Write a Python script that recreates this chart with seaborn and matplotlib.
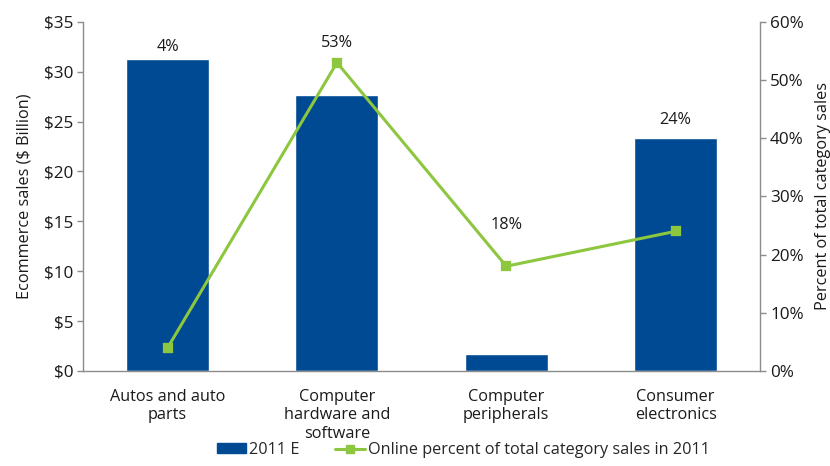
import numpy as np
import pandas as pd
import matplotlib
matplotlib.use("Agg")
import matplotlib.pyplot as plt
import seaborn as sns
from matplotlib.ticker import FuncFormatter, FixedLocator
from matplotlib.patches import Patch
from matplotlib.lines import Line2D

categories = ["Autos and auto\nparts", "Computer\nhardware and\nsoftware",
              "Computer\nperipherals", "Consumer\nelectronics"]
sales_2011 = [31.3, 27.7, 1.7, 23.4]
online_pct = [4, 53, 18, 24]
pct_labels = ["4%", "53%", "18%", "24%"]
label_y = [32.5, 32.9, 14.6, 25.2]  # label positions in $ Billion axis units

bar_color = "#004A93"
line_color = "#8DC63F"
axis_color = "#8C8C8C"
txt = "#1a1a1a"
fs = 11.7

sns.set_theme(style="white")
plt.rcParams["font.family"] = ["Open Sans", "DejaVu Sans"]

df = pd.DataFrame({"cat": categories, "sales": sales_2011, "pct": online_pct})

fig = plt.figure(figsize=(8.3, 4.66), dpi=100)
ax = fig.add_axes([0.1, 0.204, 0.816, 0.749])

sns.barplot(data=df, x="cat", y="sales", color=bar_color, width=0.49,
            saturation=1, ax=ax)
ax.set_ylim(0, 35)
ax.set_xlim(-0.5, 3.5)
ax.set_yticks(np.arange(0, 36, 5))
ax.yaxis.set_major_formatter(FuncFormatter(lambda v, p: f"${v:.0f}"))
ax.set_xlabel("")
ax.set_ylabel("Ecommerce sales ($ Billion)", fontsize=fs, color=txt, labelpad=8)

ax2 = ax.twinx()
sns.pointplot(data=df, x="cat", y="pct", color=line_color, markers="s",
              markersize=6, linewidth=2.2, ax=ax2)
ax2.set_xlim(-0.5, 3.5)
ax2.set_ylim(0, 60)
ax2.set_yticks(np.arange(0, 61, 10))
ax2.yaxis.set_major_formatter(FuncFormatter(lambda v, p: f"{v:.0f}%"))
ax2.set_ylabel("Percent of total category sales", fontsize=fs, color=txt, labelpad=8)
ax2.set_xlabel("")

for i, (t, yv) in enumerate(zip(pct_labels, label_y)):
    ax.text(i, yv, t, ha="center", va="center", fontsize=fs, color=txt)

for a in (ax, ax2):
    a.spines["top"].set_visible(False)
    for s in ("left", "right", "bottom"):
        a.spines[s].set_color(axis_color)
        a.spines[s].set_linewidth(1)
    a.tick_params(axis="y", labelsize=12.3, labelcolor=txt, length=4,
                  color=axis_color, direction="out", width=1, pad=3)
ax2.spines["left"].set_visible(False)
ax2.spines["bottom"].set_visible(False)
ax.spines["right"].set_visible(False)

ax.tick_params(axis="x", which="major", length=0, labelsize=fs, labelcolor=txt, pad=13)
ax.xaxis.set_minor_locator(FixedLocator([-0.5, 0.5, 1.5, 2.5, 3.5]))
ax.tick_params(axis="x", which="minor", length=5, color=axis_color, direction="out", width=1)

handles = [Patch(facecolor=bar_color, edgecolor=bar_color),
           Line2D([0], [0], color=line_color, lw=2.2, marker="s", markersize=6)]
fig.legend(handles, ["2011 E", "Online percent of total category sales in 2011"],
           loc="lower center", bbox_to_anchor=(0.558, -0.014), ncol=2, frameon=False,
           fontsize=fs, handlelength=1.8, handleheight=0.5, columnspacing=2.2,
           handletextpad=0.2)

fig.savefig("out.png", dpi=100)
